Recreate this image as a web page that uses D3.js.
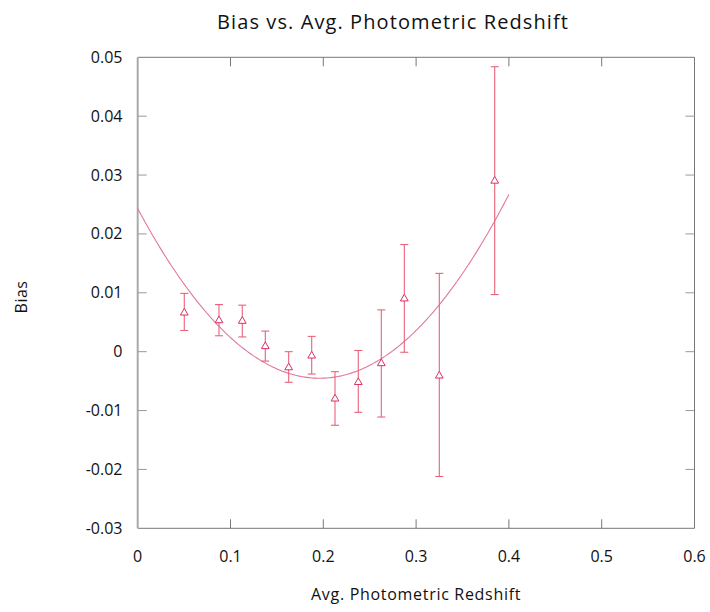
<!DOCTYPE html>
<html>
<head>
<meta charset="utf-8">
<script src="https://cdn.jsdelivr.net/npm/d3@7"></script>
<style>
  body { margin: 0; background: #fff; }
  text { font-family: "Open Sans", "Noto Sans", sans-serif; fill: #111; }
</style>
</head>
<body>
<svg id="chart" width="710" height="612"></svg>
<script>
// ---- data ----
const redshift = [0.0502, 0.0876, 0.1127, 0.1375, 0.1627, 0.1875, 0.2126, 0.2377, 0.2625, 0.2873, 0.3250, 0.3847];
const bias     = [0.0066, 0.0053, 0.0052, 0.0009, -0.0027, -0.0007, -0.0080, -0.0052, -0.0020, 0.0090, -0.0041, 0.0290];
const errHigh  = [0.0099, 0.0080, 0.0079, 0.0035, 0.0000, 0.0026, -0.0034, 0.0002, 0.0071, 0.0182, 0.0133, 0.0484];
const errLow   = [0.0036, 0.0027, 0.0025, -0.0016, -0.0052, -0.0038, -0.0125, -0.0103, -0.0111, -0.0001, -0.0212, 0.0097];
// quadratic trendline coefficients: c0 + c1*x + c2*x^2
const trendCoef = [0.0243, -0.294, 0.75];
const trendRange = [0, 0.4];
const xTicks = [0, 0.1, 0.2, 0.3, 0.4, 0.5, 0.6];
const yTicks = [-0.03, -0.02, -0.01, 0, 0.01, 0.02, 0.03, 0.04, 0.05];

const fmt = v => String(+v.toFixed(4));

const svg = d3.select("#chart");
const L = 137.7, R = 694.5, T = 57.3, B = 528.3;
const x = d3.scaleLinear().domain([0, 0.6]).range([L, R]);
const y = d3.scaleLinear().domain([-0.03, 0.05]).range([B, T]);

// axes frame
const g = svg.append("g");
g.append("line").attr("x1", L).attr("x2", R).attr("y1", T).attr("y2", T).attr("stroke", "#777").attr("stroke-width", 1);
g.append("line").attr("x1", L).attr("x2", R).attr("y1", B).attr("y2", B).attr("stroke", "#777").attr("stroke-width", 1);
g.append("line").attr("x1", R).attr("x2", R).attr("y1", T).attr("y2", B).attr("stroke", "#777").attr("stroke-width", 1);
g.append("line").attr("x1", L).attr("x2", L).attr("y1", T).attr("y2", B).attr("stroke", "#aaa").attr("stroke-width", 2);

const tl = 9;
xTicks.slice(1, -1).forEach(v => {
  g.append("line").attr("x1", x(v)).attr("x2", x(v)).attr("y1", B).attr("y2", B - tl).attr("stroke", "#777");
  g.append("line").attr("x1", x(v)).attr("x2", x(v)).attr("y1", T).attr("y2", T + tl).attr("stroke", "#777");
});
yTicks.slice(1, -1).forEach(v => {
  g.append("line").attr("x1", L).attr("x2", L + tl).attr("y1", y(v)).attr("y2", y(v)).attr("stroke", "#999");
  g.append("line").attr("x1", R).attr("x2", R - tl).attr("y1", y(v)).attr("y2", y(v)).attr("stroke", "#999");
});

// tick labels
xTicks.forEach(v => {
  svg.append("text").attr("x", x(v)).attr("y", 562).attr("text-anchor", "middle")
    .attr("font-size", 16).text(fmt(v));
});
yTicks.forEach(v => {
  svg.append("text").attr("x", 122.5).attr("y", y(v) + 5.5).attr("text-anchor", "end")
    .attr("font-size", 16).text(fmt(v));
});

// titles
svg.append("text").attr("x", 393).attr("y", 29).attr("text-anchor", "middle")
  .attr("font-size", 20).attr("letter-spacing", 1.1).text("Bias vs. Avg. Photometric Redshift");
svg.append("text").attr("x", (L + R) / 2).attr("y", 600).attr("text-anchor", "middle")
  .attr("font-size", 16).attr("letter-spacing", 0.7).text("Avg. Photometric Redshift");
svg.append("text").attr("transform", "translate(27,297) rotate(-90)").attr("text-anchor", "middle")
  .attr("font-size", 16).attr("letter-spacing", 0.5).text("Bias");

// trendline
const trendPts = d3.range(0, 201).map(i => {
  const xv = trendRange[0] + (trendRange[1] - trendRange[0]) * i / 200;
  return [xv, trendCoef[0] + trendCoef[1] * xv + trendCoef[2] * xv * xv];
});
svg.append("path").datum(trendPts)
  .attr("d", d3.line().x(d => x(d[0])).y(d => y(d[1])))
  .attr("fill", "none").attr("stroke", "#e0789e").attr("stroke-width", 1.1);

// error bars
const data = redshift.map((r, i) => ({ r, b: bias[i], hi: errHigh[i], lo: errLow[i] }));
const eb = svg.append("g").attr("stroke", "#e8637a").attr("stroke-width", 1.1);
data.forEach(d => {
  eb.append("line").attr("x1", x(d.r)).attr("x2", x(d.r)).attr("y1", y(d.hi)).attr("y2", y(d.lo));
  eb.append("line").attr("x1", x(d.r) - 4).attr("x2", x(d.r) + 4).attr("y1", y(d.hi)).attr("y2", y(d.hi));
  eb.append("line").attr("x1", x(d.r) - 4).attr("x2", x(d.r) + 4).attr("y1", y(d.lo)).attr("y2", y(d.lo));
});

// triangle markers
const tri = d3.symbol().type(d3.symbolTriangle).size(26);
svg.append("g").selectAll("path").data(data).join("path")
  .attr("d", tri)
  .attr("transform", d => `translate(${x(d.r)},${y(d.b)})`)
  .attr("fill", "#fff").attr("stroke", "#d8306a").attr("stroke-width", 1);
</script>
</body>
</html>
